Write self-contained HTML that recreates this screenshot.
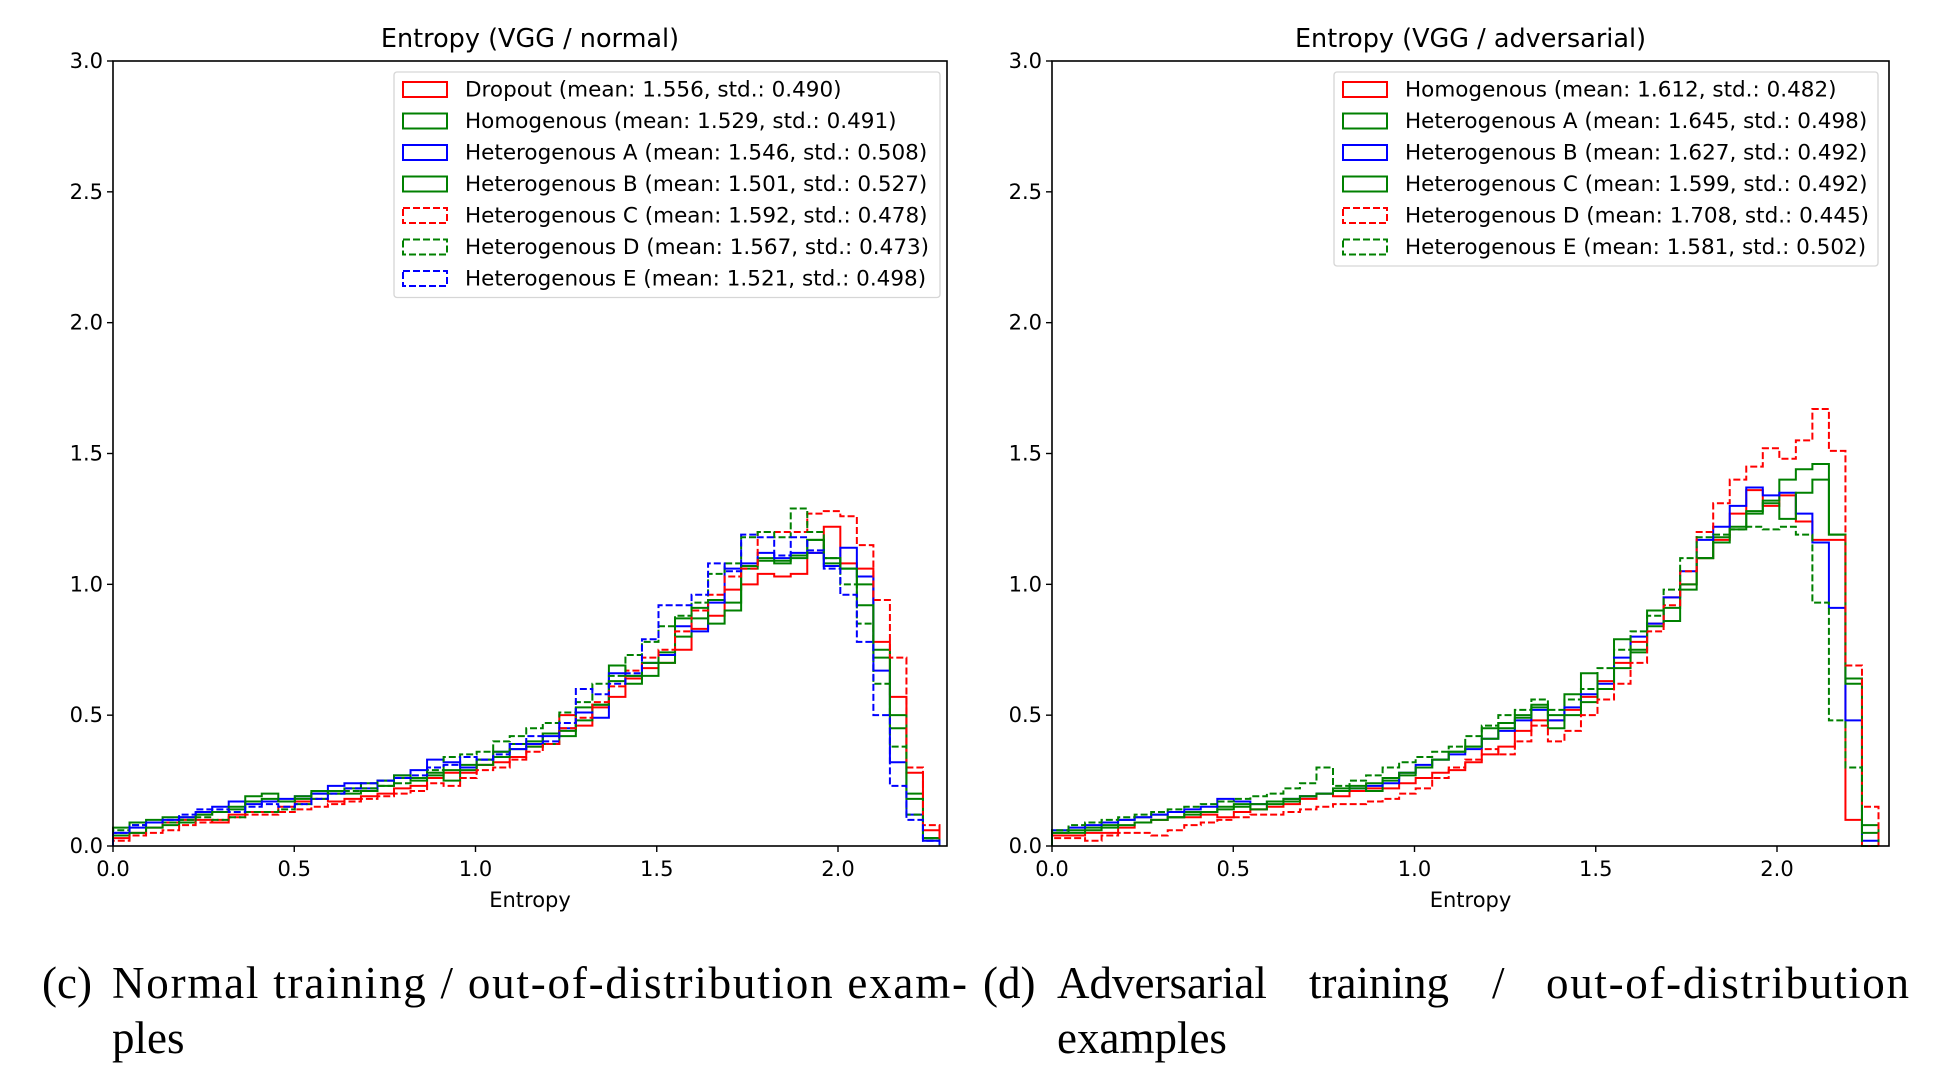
<!DOCTYPE html>
<html><head><meta charset="utf-8"><style>
html,body{margin:0;padding:0;background:#fff;}
svg{display:block;}
text{font-family:"DejaVu Sans","Liberation Sans",sans-serif;fill:#000;}
.cap{font-family:"Liberation Serif","DejaVu Serif",serif;font-size:45px;}
</style></head><body>
<svg id="fig" width="1939" height="1077" viewBox="0 0 1939 1077" xmlns="http://www.w3.org/2000/svg">
<g>
<text class="cap" x="42" y="998">(c)</text>
<text class="cap" x="112" y="998" textLength="855" lengthAdjust="spacing">Normal training / out-of-distribution exam-</text>
<text class="cap" x="112" y="1053">ples</text>
</g>
<g>
<text class="cap" x="983" y="998">(d)</text>
<text class="cap" x="1057" y="998">Adversarial</text>
<text class="cap" x="1309" y="998">training</text>
<text class="cap" x="1492" y="998">/</text>
<text class="cap" x="1546" y="998" textLength="363" lengthAdjust="spacing">out-of-distribution</text>
<text class="cap" x="1057" y="1053">examples</text>
</g>
</svg>
<script>
// ---- data: bin counts (density), 50 bins each ----
const binMaxLeft = 2.28;
const binMaxRight = 2.28;
const yTicks = [0.0, 0.5, 1.0, 1.5, 2.0, 2.5, 3.0];
const xTicks = [0.0, 0.5, 1.0, 1.5, 2.0];

const leftNames = ["Dropout (mean: 1.556, std.: 0.490)","Homogenous (mean: 1.529, std.: 0.491)","Heterogenous A (mean: 1.546, std.: 0.508)","Heterogenous B (mean: 1.501, std.: 0.527)","Heterogenous C (mean: 1.592, std.: 0.478)","Heterogenous D (mean: 1.567, std.: 0.473)","Heterogenous E (mean: 1.521, std.: 0.498)"];
const leftColors = ["#ff0000","#008000","#0000ff","#008000","#ff0000","#008000","#0000ff"];
const leftDashed = [false,false,false,false,true,true,true];

const L_dropout = [0.03,0.05,0.07,0.09,0.10,0.10,0.09,0.12,0.13,0.13, 0.15,0.17,0.18,0.17,0.18,0.19,0.20,0.22,0.23,0.26, 0.28,0.28,0.31,0.32,0.34,0.38,0.43,0.50,0.46,0.53, 0.57,0.64,0.68,0.70,0.75,0.83,0.88,0.98,1.00,1.04, 1.03,1.04,1.12,1.22,1.08,1.06,0.78,0.57,0.28,0.06];
const L_homog = [0.07,0.09,0.10,0.11,0.11,0.12,0.13,0.14,0.17,0.18, 0.17,0.18,0.20,0.21,0.20,0.21,0.23,0.26,0.25,0.27, 0.29,0.31,0.31,0.34,0.37,0.38,0.39,0.42,0.48,0.54, 0.69,0.62,0.65,0.70,0.80,0.87,0.94,0.93,1.06,1.10, 1.08,1.10,1.17,1.08,1.06,1.00,0.75,0.50,0.20,0.03];
const L_hetA = [0.05,0.07,0.09,0.10,0.11,0.13,0.15,0.17,0.16,0.17, 0.18,0.19,0.20,0.23,0.24,0.22,0.25,0.27,0.29,0.33, 0.32,0.30,0.33,0.36,0.37,0.39,0.42,0.45,0.51,0.49, 0.66,0.65,0.70,0.73,0.84,0.82,0.93,1.06,1.08,1.12, 1.10,1.12,1.12,1.07,1.14,1.03,0.67,0.32,0.12,0.02];
const L_hetB = [0.04,0.05,0.07,0.08,0.09,0.12,0.13,0.15,0.19,0.20, 0.17,0.19,0.21,0.20,0.22,0.24,0.25,0.27,0.26,0.28, 0.25,0.29,0.33,0.36,0.39,0.40,0.43,0.44,0.53,0.54, 0.63,0.65,0.70,0.74,0.87,0.91,0.85,0.90,1.07,1.09, 1.09,1.11,1.17,1.10,1.06,0.92,0.72,0.45,0.18,0.03];
const L_hetC = [0.02,0.04,0.05,0.06,0.08,0.09,0.10,0.11,0.12,0.12, 0.13,0.14,0.15,0.16,0.17,0.18,0.19,0.20,0.21,0.24, 0.23,0.26,0.29,0.30,0.33,0.36,0.39,0.45,0.49,0.55, 0.61,0.67,0.72,0.75,0.82,0.90,0.96,1.03,1.06,1.20, 1.20,1.20,1.27,1.28,1.26,1.15,0.94,0.72,0.30,0.08];
const L_hetD = [0.06,0.08,0.09,0.09,0.10,0.11,0.10,0.11,0.13,0.13, 0.14,0.16,0.18,0.20,0.21,0.22,0.23,0.24,0.26,0.29, 0.34,0.35,0.36,0.40,0.42,0.45,0.47,0.51,0.55,0.62, 0.65,0.73,0.78,0.84,0.88,0.93,1.04,1.08,1.18,1.20, 1.18,1.29,1.20,1.10,1.00,0.85,0.62,0.38,0.12,0.03];
const L_hetE = [0.05,0.08,0.09,0.10,0.12,0.14,0.14,0.13,0.15,0.16, 0.15,0.16,0.18,0.20,0.22,0.24,0.25,0.26,0.27,0.30, 0.31,0.34,0.33,0.35,0.39,0.42,0.40,0.47,0.60,0.58, 0.62,0.66,0.79,0.92,0.92,0.96,1.08,1.05,1.19,1.18, 1.11,1.18,1.13,1.06,0.96,0.78,0.50,0.23,0.10,0.02];

const rightNames = ["Homogenous (mean: 1.612, std.: 0.482)","Heterogenous A (mean: 1.645, std.: 0.498)","Heterogenous B (mean: 1.627, std.: 0.492)","Heterogenous C (mean: 1.599, std.: 0.492)","Heterogenous D (mean: 1.708, std.: 0.445)","Heterogenous E (mean: 1.581, std.: 0.502)"];
const rightColors = ["#ff0000","#008000","#0000ff","#008000","#ff0000","#008000"];
const rightDashed = [false,false,false,false,true,true];

const R_homog = [0.04,0.04,0.05,0.05,0.07,0.09,0.10,0.11,0.11,0.12, 0.11,0.13,0.14,0.15,0.16,0.18,0.20,0.19,0.21,0.22, 0.22,0.24,0.26,0.28,0.29,0.32,0.35,0.38,0.44,0.48, 0.48,0.52,0.57,0.63,0.70,0.78,0.85,0.95,1.00,1.10, 1.17,1.27,1.36,1.30,1.34,1.24,1.17,1.17,0.10,0.00];
const R_hetA = [0.05,0.06,0.07,0.08,0.10,0.11,0.12,0.11,0.13,0.13, 0.15,0.16,0.14,0.16,0.17,0.19,0.20,0.22,0.23,0.21, 0.25,0.27,0.30,0.33,0.36,0.38,0.45,0.47,0.50,0.53, 0.50,0.58,0.66,0.60,0.79,0.74,0.90,0.86,0.98,1.10, 1.18,1.22,1.28,1.32,1.40,1.44,1.46,1.19,0.64,0.08];
const R_hetB = [0.06,0.07,0.08,0.09,0.10,0.11,0.12,0.13,0.14,0.15, 0.18,0.17,0.16,0.17,0.18,0.19,0.20,0.21,0.22,0.23, 0.24,0.28,0.31,0.33,0.35,0.37,0.41,0.44,0.48,0.52, 0.48,0.53,0.58,0.62,0.72,0.80,0.85,0.95,1.05,1.17, 1.22,1.30,1.37,1.34,1.35,1.27,1.16,0.91,0.48,0.02];
const R_hetC = [0.05,0.05,0.06,0.07,0.08,0.09,0.10,0.11,0.12,0.13, 0.14,0.15,0.16,0.17,0.18,0.19,0.20,0.21,0.22,0.24, 0.26,0.28,0.30,0.33,0.36,0.38,0.41,0.45,0.49,0.54, 0.45,0.50,0.55,0.60,0.68,0.75,0.84,0.91,1.00,1.10, 1.16,1.21,1.27,1.31,1.25,1.35,1.40,1.19,0.62,0.05];
const R_hetD = [0.03,0.03,0.02,0.04,0.05,0.05,0.04,0.06,0.08,0.09, 0.10,0.11,0.12,0.12,0.13,0.14,0.15,0.16,0.16,0.17, 0.18,0.20,0.22,0.26,0.30,0.33,0.37,0.35,0.40,0.46, 0.40,0.44,0.50,0.56,0.62,0.70,0.82,0.92,1.05,1.20, 1.31,1.40,1.45,1.52,1.48,1.55,1.67,1.51,0.69,0.15];
const R_hetE = [0.06,0.08,0.09,0.10,0.11,0.12,0.13,0.14,0.15,0.16, 0.17,0.18,0.19,0.20,0.22,0.24,0.30,0.23,0.25,0.27, 0.30,0.32,0.34,0.36,0.38,0.42,0.46,0.50,0.52,0.56, 0.52,0.56,0.60,0.68,0.75,0.82,0.88,0.98,1.10,1.18, 1.19,1.21,1.22,1.21,1.22,1.19,0.93,0.48,0.30,0.00];

const NS = "http://www.w3.org/2000/svg";
const svg = document.getElementById("fig");
function mk(tag, attrs, parent){
  const e = document.createElementNS(NS, tag);
  for (const k in attrs) e.setAttribute(k, attrs[k]);
  (parent||svg).appendChild(e);
  return e;
}

function drawPanel(cfg){
  const g = mk("g", {});
  
  
  const X0 = cfg.left, X1 = cfg.right, Y0 = 846, Y1 = 61;
  const xScale = v => X0 + v * cfg.pxPerUnit;
  const yScale = v => Y0 - (v / 3.0) * (Y0 - Y1);

  cfg.series.forEach((vals, si) => {
    const n = vals.length, w = cfg.binMax / n;
    let d = "M" + xScale(0) + "," + yScale(0);
    for (let i = 0; i < n; i++) {
      d += " L" + xScale(i * w) + "," + yScale(vals[i]) + " L" + xScale((i + 1) * w) + "," + yScale(vals[i]);
    }
    d += " L" + xScale(n * w) + "," + yScale(0);
    const p = mk("path", {d: d, fill: "none", stroke: cfg.colors[si], "stroke-width": 2, "stroke-linejoin": "miter"}, g);
    if (cfg.dashed[si]) p.setAttribute("stroke-dasharray", "7,3");
    
    
  });

  const fr = mk("rect", {x: X0, y: Y1, width: X1 - X0, height: Y0 - Y1, fill: "none", stroke: "#000", "stroke-width": 1.6}, g);
  
  

  yTicks.forEach(t => {
    const y = yScale(t);
    mk("line", {x1: X0 - 6, x2: X0, y1: y, y2: y, stroke: "#000", "stroke-width": 1.4}, g);
    const tx = mk("text", {x: X0 - 10, y: y + 7, "font-size": 21, "text-anchor": "end"}, g);
    tx.textContent = t.toFixed(1);
    
    
  });
  xTicks.forEach(t => {
    const x = xScale(t);
    mk("line", {x1: x, x2: x, y1: Y0, y2: Y0 + 6, stroke: "#000", "stroke-width": 1.4}, g);
    const tx = mk("text", {x: x, y: Y0 + 30, "font-size": 21, "text-anchor": "middle"}, g);
    tx.textContent = t.toFixed(1);
    
    
  });
  const xl = mk("text", {x: (X0 + X1) / 2, y: Y0 + 61, "font-size": 21, "text-anchor": "middle"}, g);
  xl.textContent = "Entropy";
  
  
  const ti = mk("text", {x: (X0 + X1) / 2, y: 47, "font-size": 25.5, "text-anchor": "middle"}, g);
  ti.textContent = cfg.title;
  
  

  const lg = mk("g", {}, g);
  
  
  const lb = mk("rect", {x: cfg.legX, y: 72, width: cfg.legW, height: cfg.names.length * 31.5 + 5, rx: 3, fill: "#fff", "fill-opacity": 0.8, stroke: "#d6d6d6", "stroke-width": 1.3}, lg);
  
  
  cfg.names.forEach((nm, i) => {
    const cy = 89 + i * 31.5;
    const eg = mk("g", {}, lg);
    
    
    const r = mk("rect", {x: cfg.legX + 9, y: cy - 7, width: 44, height: 15, fill: "none", stroke: cfg.colors[i], "stroke-width": 2}, eg);
    if (cfg.dashed[i]) r.setAttribute("stroke-dasharray", "7,3");
    const tx = mk("text", {x: cfg.legX + 71, y: cy + 7.5, "font-size": 21.5}, eg);
    tx.textContent = nm;
  });
}

drawPanel({name: "panel-normal", left: 113, right: 947, pxPerUnit: 362.5, binMax: binMaxLeft,
  title: "Entropy (VGG / normal)", names: leftNames, colors: leftColors, dashed: leftDashed,
  keys: ["dropout","homogenous","het-a","het-b","het-c","het-d","het-e"],
  series: [L_dropout, L_homog, L_hetA, L_hetB, L_hetC, L_hetD, L_hetE], legX: 394, legW: 546});
drawPanel({name: "panel-adversarial", left: 1052, right: 1889, pxPerUnit: 362.5, binMax: binMaxRight,
  title: "Entropy (VGG / adversarial)", names: rightNames, colors: rightColors, dashed: rightDashed,
  keys: ["homogenous","het-a","het-b","het-c","het-d","het-e"],
  series: [R_homog, R_hetA, R_hetB, R_hetC, R_hetD, R_hetE], legX: 1334, legW: 544});
</script>
</body></html>
